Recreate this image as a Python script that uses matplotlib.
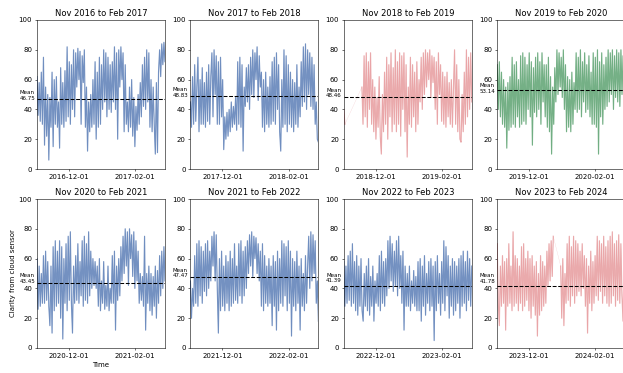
import matplotlib
matplotlib.use("Agg")
import matplotlib.pyplot as plt
import matplotlib.dates as mdates
import matplotlib.transforms as mtransforms
import pandas as pd

# daily clarity readings, Nov 1 -> Mar 1 of each winter
clar_2016 = [62, 36, 58, 32, 65, 30, 75, 16, 55, 22, 50, 6, 48, 28, 65, 15, 60, 30,
             62, 28, 45, 14, 68, 30, 58, 28, 66, 32, 82, 35, 72, 30, 70, 40,
             80, 35, 78, 55, 81, 60, 79, 30, 76, 58, 80, 28, 55, 12, 45,
             25, 50, 28, 60, 30, 72, 20, 65, 28, 75, 30, 70, 40, 80, 45, 78, 35,
             75, 40, 70, 38, 72, 45, 82, 40, 78, 20, 80, 55, 82, 60, 78, 25, 70, 30,
             45, 25, 55, 28, 60, 22, 48, 15, 42, 26, 50, 30, 58, 35, 70, 42, 75, 40, 80, 45, 78,
             28, 60, 25, 55, 30, 10, 58, 11, 65, 80, 62, 84, 70, 85, 72]
clar_2017 = [45, 28, 62, 30, 70, 32, 55, 75, 25, 60, 30, 68, 30, 58, 28, 65, 32, 70, 30, 62,
             78, 35, 80, 50, 76, 30, 72, 30, 75, 35, 60, 13, 35, 20, 38, 22, 40, 25,
             45, 28, 42, 30, 48, 26, 72, 30, 75, 28, 70, 12, 55, 42, 68, 45, 70, 40, 75,
             50, 80, 48, 78, 60, 82, 46, 76, 55, 65, 28, 60, 25, 65, 30, 55, 28, 62, 30,
             72, 32, 75, 30, 78, 40, 70, 25, 12, 60, 28, 80, 30, 76, 25, 70, 30, 65, 28, 60,
             25, 58, 30, 70, 28, 55, 35, 72, 42, 82, 45, 84, 40, 80, 50, 78, 42,
             75, 40, 70, 30, 45, 20, 18]
clar_2018a = [40, 30]
clar_2018b = [55, 30, 76, 35, 78, 28, 72, 40, 78, 30, 60, 25, 55, 20, 48, 28, 62, 22, 10, 50, 25,
              65, 30, 75, 20, 70, 35, 78, 25, 68, 30, 80, 25, 72, 30, 78, 22, 76, 40, 78, 25, 70, 8, 55,
              30, 75, 28, 70, 35, 65, 25, 72, 30, 60, 45, 75, 40, 78, 50, 80,
              55, 78, 60, 80, 48, 76, 58, 75, 40, 72, 30, 78, 50, 70, 32, 65,
              30, 62, 28, 65, 35, 58, 30, 60, 28, 55, 80, 30, 70, 25, 60, 20, 18, 50, 25, 65,
              30, 80, 35, 75, 40, 78, 45]
clar_2019 = [70, 40, 72, 35, 65, 30, 60, 28, 55, 14, 58, 26, 62, 28,
             75, 30, 70, 28, 72, 35, 60, 28, 76, 30, 78, 32, 75, 30, 70, 40, 78, 35, 72,
             16, 68, 38, 75, 35, 78, 40, 72, 30, 78, 45, 70, 35, 70, 28, 75, 25, 62, 10, 55, 30, 68,
             45, 80, 50, 78, 55, 75, 48, 80, 40, 70, 25, 62, 28, 60, 25, 65, 30, 58, 40,
             78, 38, 75, 40, 80, 35, 72, 45, 78, 38, 70, 40, 76, 35, 65, 30,
             78, 30, 75, 28, 80, 10, 72, 35, 78, 30, 70, 40, 75,
             42, 80, 45, 78, 50, 80, 40, 76, 48, 80, 45, 78, 42, 80, 50, 76, 45, 72]
clar_2020 = [60, 26, 55, 28, 50, 30, 62, 30, 65, 32, 58, 28, 15, 55, 10, 68, 25, 72, 28, 65, 30,
             72, 20, 68, 6, 60, 30, 70, 25, 75, 32, 78, 30, 10, 55, 30, 62, 32, 70, 30, 58, 35,
             72, 28, 75, 32, 70, 30, 78, 35, 65, 40, 60, 42, 58, 40, 55,
             28, 60, 25, 45, 30, 58, 26, 42, 28, 55, 25, 40, 30, 62, 30, 65, 12, 55, 32, 60, 35, 68,
             45, 75, 50, 80, 55, 78, 42, 80, 60, 76, 48, 78, 40, 72, 45, 65,
             30, 50, 32, 48, 28, 75, 12, 50, 30, 55, 25, 50, 22, 48, 28, 55, 20, 52, 30,
             62, 35, 65, 40, 68, 45]
clar_2021 = [45, 20, 40, 28, 62, 30, 70, 28, 72, 35, 68, 30, 65, 38, 70, 35, 72, 40, 65, 45,
             75, 55, 78, 45, 76, 40, 10, 60, 25, 65, 28, 55, 25, 62, 30,
             58, 25, 65, 28, 60, 30, 70, 32, 55, 30, 70, 35, 72, 30, 65, 35, 68, 40,
             72, 50, 76, 55, 78, 48, 75, 60, 74, 50, 70, 45, 65, 28, 70, 25, 62, 30, 55, 28, 60, 30,
             55, 15, 62, 28, 58, 12, 65, 25, 60, 30, 72, 28, 70, 35, 68, 25, 72, 30, 65, 8, 60, 28,
             58, 25, 65, 30, 55, 12, 60, 28, 50, 25, 62, 30, 55, 75, 40, 78, 45, 76, 50, 72, 30, 45, 18]
clar_2022 = [58, 28, 55, 30, 62, 32, 65, 28, 70, 30, 58, 25, 62, 22, 55, 28, 60, 25, 18,
             50, 28, 55, 25, 60, 22, 48, 28, 55, 18, 45, 30, 50, 28, 62, 25, 65, 30, 58, 28, 60, 35,
             72, 40, 75, 45, 70, 38, 65, 42, 72, 35, 75, 40, 62, 30, 65, 12, 55, 28,
             50, 28, 55, 25, 45, 30, 52, 28, 48, 25, 58, 25, 60, 18, 55, 28, 62, 22, 50, 30, 58, 25,
             60, 28, 55, 5, 58, 25, 62, 30, 50, 22, 58, 30, 72, 25, 68, 35, 62, 20, 55,
             28, 60, 22, 58, 25, 55, 30, 60, 20, 62, 28, 65, 30, 58, 25, 65, 32, 60, 28, 55]
clar_2023a = [70, 30, 15, 55, 28, 62, 30, 58, 12, 60, 28, 70, 30, 55, 25, 78, 28, 62, 30, 60, 25, 55,
              30, 68, 25, 70, 28, 60, 32, 65, 25, 60, 20, 62, 28, 55, 22, 58, 8, 50,
              22, 62, 25, 58, 28, 55, 30, 65, 42, 70, 45, 72, 48, 75]
clar_2023b = [55, 20, 60, 15, 50, 30, 70, 32, 75, 28, 68, 35, 75, 30, 72, 35, 70,
              38, 65, 35, 70, 40, 62, 28, 60, 10, 55, 30, 65, 25, 58, 30, 62,
              35, 75, 32, 72, 38, 70, 30, 75, 35, 68, 30, 72,
              28, 75, 30, 78, 35, 70, 28, 72, 32, 76, 30, 70, 35, 18, 60, 40]

titles = ["Nov 2016 to Feb 2017", "Nov 2017 to Feb 2018", "Nov 2018 to Feb 2019",
          "Nov 2019 to Feb 2020", "Nov 2020 to Feb 2021", "Nov 2021 to Feb 2022",
          "Nov 2022 to Feb 2023", "Nov 2023 to Feb 2024"]
means = [46.75, 48.83, 48.46, 53.14, 43.45, 47.47, 41.39, 41.78]
colors = ["#4C72B0", "#4C72B0", "#E07F82", "#4E9A64",
          "#4C72B0", "#4C72B0", "#4C72B0", "#E07F82"]
alphas = [0.75, 0.75, 0.62, 0.75, 0.75, 0.75, 0.75, 0.62]
label_shift = [2.7, 2.7, 2.5, 0.9, 3.1, 2.9, 5.6, 4.9]


def winter(year, *segments):
    # segments: (start date, values); the last one runs up to Mar 1
    out = []
    for k, (start, v) in enumerate(segments):
        if k == len(segments) - 1:
            t = pd.date_range(start, f"{year + 1}-03-01", periods=len(v))
        else:
            t = pd.date_range(start, periods=len(v), freq="D")
        out.append((list(t), list(v)))
    return out


series = [
    winter(2016, ("2016-11-01", clar_2016)),
    winter(2017, ("2017-11-01", clar_2017)),
    winter(2018, ("2018-11-01", clar_2018a), ("2018-11-18", clar_2018b)),
    winter(2019, ("2019-11-01", clar_2019)),
    winter(2020, ("2020-11-01", clar_2020)),
    winter(2021, ("2021-11-01", clar_2021)),
    winter(2022, ("2022-11-01", clar_2022)),
    winter(2023, ("2023-11-01", clar_2023a), ("2023-12-31", clar_2023b)),
]

fig = plt.figure(figsize=(12.46, 7.46), dpi=50)
W, H = 623, 373

for i, segs in enumerate(series):
    row, col = divmod(i, 4)
    left = 37 + 153.4 * col
    top = 20 if row == 0 else 199
    ax = fig.add_axes([left / W, 1 - (top + 149) / H, 128 / W, 149 / H])

    all_t = [x for s in segs for x in s[0]]
    all_v = [x for s in segs for x in s[1]]
    # thin line bridges the missing days
    ax.plot(all_t, all_v, color=colors[i], lw=0.4, alpha=0.4)
    for t, v in segs:
        ax.plot(t, v, color=colors[i], lw=1.7, alpha=alphas[i])
    ax.axhline(means[i], color="black", linestyle="--", lw=1.5)

    trans = mtransforms.blended_transform_factory(ax.transAxes, ax.transData)
    ax.text(-0.016, means[i] + label_shift[i], f"Mean\n{means[i]:.2f}", transform=trans,
            ha="right", va="center", multialignment="center", fontsize=8)

    ax.set_title(titles[i], fontsize=12)
    ax.set_ylim(0, 100)
    ax.set_xlim(all_t[0], all_t[-1])
    ax.xaxis.set_major_locator(mdates.MonthLocator(bymonth=[12, 2]))
    ax.xaxis.set_major_formatter(mdates.DateFormatter("%Y-%m-%d"))
    ax.tick_params(labelsize=10)

    if i == 4:
        ax.set_xlabel("Time", fontsize=10)
        ax.set_ylabel("Clarity from cloud sensor", fontsize=10)

fig.savefig("out.png", dpi=50)
